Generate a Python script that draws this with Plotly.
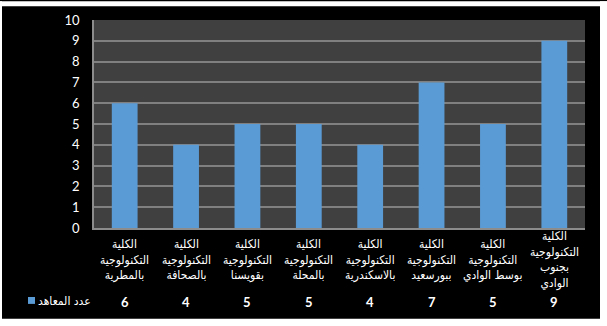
import plotly.graph_objects as go

categories = [
    "الكلية<br>التكنولوجية<br>بالمطرية",
    "الكلية<br>التكنولوجية<br>بالصحافة",
    "الكلية<br>التكنولوجية<br>بقويسنا",
    "الكلية<br>التكنولوجية<br>بالمحلة",
    "الكلية<br>التكنولوجية<br>بالاسكندرية",
    "الكلية<br>التكنولوجية<br>ببورسعيد",
    "الكلية<br>التكنولوجية<br>بوسط الوادي",
    "الكلية<br>التكنولوجية<br>بجنوب<br>الوادي",
]
values = [6, 4, 5, 5, 4, 7, 5, 9]
series_name = "عدد المعاهد"
y_ticks = list(range(0, 11))

W, H = 607, 326
L, R, T, B = 94, 22, 17, 98
pw, ph = W - L - R, H - T - B

def px(xp):
    return (xp - L) / pw

def py(yp):
    return (H - B - yp) / ph

bar_color = "#5B9BD5"
arabic_font = "DejaVu Sans Condensed, DejaVu Sans"
num_font = "Lato"

xs = list(range(len(categories)))

fig = go.Figure()
fig.add_trace(go.Bar(
    x=xs, y=values, width=0.42,
    marker=dict(color=bar_color, line=dict(width=0)),
    showlegend=False, hoverinfo="skip",
))

annotations = []
for i, (c, v) in enumerate(zip(categories, values)):
    annotations.append(dict(
        x=i, y=py(260), xref="x", yref="paper", text=c,
        showarrow=False, xanchor="center", yanchor="middle", align="center",
        font=dict(family=arabic_font, size=12, color="white"),
    ))
    annotations.append(dict(
        x=i, y=py(303), xref="x", yref="paper", text="<b>" + str(v) + "</b>",
        showarrow=False, xanchor="center", yanchor="middle",
        font=dict(family=num_font, size=13, color="white"),
    ))
annotations.append(dict(
    x=px(93), y=py(302), xref="paper", yref="paper", text=series_name,
    showarrow=False, xanchor="right", yanchor="middle",
    font=dict(family=arabic_font, size=12, color="white"),
))

shapes = [
    # legend key
    dict(type="rect", xref="paper", yref="paper", x0=px(28), x1=px(35), y0=py(298), y1=py(305),
         fillcolor=bar_color, line=dict(width=0), layer="above"),
    # white border strips
    dict(type="rect", xref="paper", yref="paper", x0=px(600), x1=px(W + 2), y0=py(H + 2), y1=py(-2),
         fillcolor="white", line=dict(width=0), layer="above"),
    dict(type="rect", xref="paper", yref="paper", x0=px(-2), x1=px(W + 2), y0=py(H + 2), y1=py(320),
         fillcolor="white", line=dict(width=0), layer="above"),
    dict(type="rect", xref="paper", yref="paper", x0=px(-2), x1=px(2), y0=py(H + 2), y1=py(-2),
         fillcolor="white", line=dict(width=0), layer="above"),
    dict(type="rect", xref="paper", yref="paper", x0=px(-2), x1=px(W + 2), y0=py(3), y1=py(-2),
         fillcolor="white", line=dict(width=0), layer="above"),
]

fig.update_layout(
    width=W, height=H,
    margin=dict(l=L, r=R, t=T, b=B, pad=0),
    paper_bgcolor="black", plot_bgcolor="#404040",
    bargap=0.58,
    annotations=annotations, shapes=shapes,
    xaxis=dict(range=[-0.5, len(categories) - 0.5], showticklabels=False, showgrid=False,
               zeroline=False, showline=True, linecolor="#8c8c8c", linewidth=1.5, ticks=""),
    yaxis=dict(range=[0, 10], tickvals=y_ticks, showgrid=True, gridcolor="#808080", gridwidth=1.5,
               zeroline=False, showline=True, linecolor="#8c8c8c", linewidth=1.5, ticks="",
               ticklabelstandoff=10,
               tickfont=dict(family=num_font, size=13, color="white")),
)

fig.write_html("out.html")
